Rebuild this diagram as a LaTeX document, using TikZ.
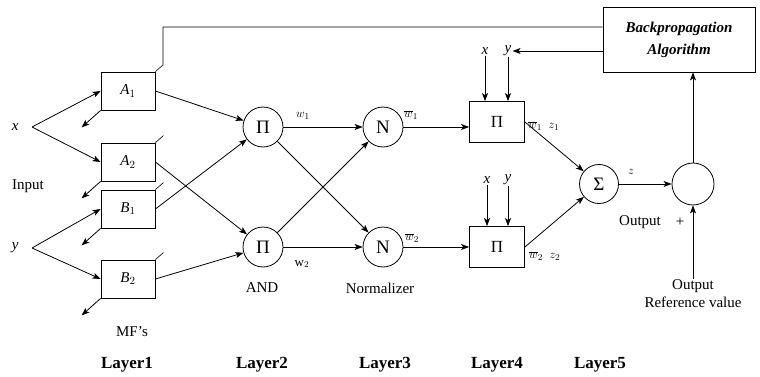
\documentclass[tikz,border=0pt]{standalone}
\usepackage{fontspec}
\setmainfont{Liberation Serif}
\usepackage{tikz}
\usetikzlibrary{arrows.meta,calc,positioning}
\begin{document}
\begin{tikzpicture}[x=1pt,y=-1pt,font=\fontsize{15}{18}\selectfont]

\tikzset{mfbox/.style = {shape=rectangle,draw,line width=0.8pt,minimum width=54pt,minimum height=38pt}}
\tikzset{opnode/.style = {shape=circle,draw,line width=0.8pt,minimum size=40pt,inner sep=0pt,font=\fontsize{19}{22}\selectfont}}
\tikzset{edge/.style = {->,> = {Stealth[length=8pt,width=6pt,inset=2pt]},line width=0.8pt}}
\tikzset{lbl/.style = {inner sep=1pt}}
\tikzset{pin/.style = {inner sep=0pt,minimum size=0pt}}
\tikzset{small/.style = {inner sep=1pt,font=\fontsize{13}{15}\selectfont}}
\tikzset{layer/.style = {font=\fontsize{17}{20}\selectfont\bfseries}}

\useasboundingbox (0,0) rectangle (760,377);

% inputs
\node[pin,label={[lbl,label distance=12pt]left:\textit{x}}] (x) at (32,127) {};
\node[pin,label={[lbl,label distance=12pt]left:\textit{y}}] (y) at (32,248) {};
\node (input) at (28,186) {Input};

% layer 1
\node[mfbox] (A1) at (128,91) {\textit{A}$_1$};
\node[mfbox] (A2) at (128,162) {\textit{A}$_2$};
\node[mfbox] (B1) at (128,209) {\textit{B}$_1$};
\node[mfbox] (B2) at (128,279) {\textit{B}$_2$};
\node (mf) at (132,332) {MF’s};

% layer 2
\node[opnode] (P1) at (263,127) {Π};
\node[opnode] (P2) at (263,247) {Π};
\node (and) at (262,288) {AND};

% layer 3
\node[opnode] (N1) at (383,127) {N};
\node[opnode] (N2) at (383,247) {N};
\node (norm) at (380,288) {Normalizer};

% layer 4
\node[mfbox,minimum width=55pt,minimum height=41pt,font=\fontsize{17}{20}\selectfont] (Q1) at (497,122) {Π};
\node[mfbox,minimum width=55pt,minimum height=41pt,font=\fontsize{17}{20}\selectfont] (Q2) at (497,247) {Π};
\node[lbl] (x1) at (485,51) {\textit{x}};
\node[lbl] (y1) at (508,51) {\textit{y}};
\node[lbl] (x2) at (487,180) {\textit{x}};
\node[lbl] (y2) at (508,180) {\textit{y}};

% layer 5
\node[opnode,minimum size=39pt] (S) at (599,184) {Σ};
\node[opnode,minimum size=42pt] (O) at (693,184) {};
\node[draw,line width=0.8pt,minimum width=152pt,minimum height=65pt,align=center,
      font=\fontsize{15}{22}\selectfont\bfseries\itshape] (bp) at (679,39.5)
      {Backpropagation\\Algorithm};
\node[align=center,inner sep=1pt] (ref) at (693,294) {Output\\Reference value};
\node (out) at (640,222) {Output};
\node (plus) at (680,222) {+};

% labels on links
\node[small] (w1) at (303,116) {$w_1$};
\node[small] (w2) at (302,264) {w$_2$};
\node[small] (nw1) at (411,115) {$\overline{w}_1$};
\node[small] (nw2) at (412,238) {$\overline{w}_2$};
\node[small,anchor=west] (f1) at (527,126) {$\overline{w}_1\ \ z_1$};
\node[small,anchor=west] (f2) at (528,256) {$\overline{w}_2\ \ z_2$};
\node[small] (z) at (631,172) {$z$};

% layer names
\node[layer] (L1) at (127,365) {Layer1};
\node[layer] (L2) at (262,365) {Layer2};
\node[layer] (L3) at (385,365) {Layer3};
\node[layer] (L4) at (497,365) {Layer4};
\node[layer] (L5) at (600,365) {Layer5};

% feedback coordinates
\coordinate (fk) at (163,65);
\coordinate (fb) at (163,27);

%edges
\draw[edge] (x) to (A1.west);
\draw[edge] (x) to (A2.west);
\draw[edge] (y) to (B1.west);
\draw[edge] (y) to (B2.west);
\foreach \m in {A1,A2,B1,B2} {
  \coordinate (\m t) at ($(\m.south west)+(-19,17)$);
  \draw[edge] (\m.south west) to (\m t);
}
\foreach \m in {A2,B1,B2}
  \draw[line width=0.6pt] (\m.north east) -- ++(8,-7);
\draw[line width=0.6pt] (A1.north east) -- (fk) -- (fb) -- (fb -| bp.west);

\draw[edge] (A1.east) to (P1);
\draw[edge] (B1.east) to (P1);
\draw[edge] (A2.east) to (P2);
\draw[edge] (B2.east) to (P2);

\draw[edge] (P1) to (N1);
\draw[edge] (P1) to (N2);
\draw[edge] (P2) to (N1);
\draw[edge] (P2) to (N2);

\draw[edge] (N1) to (N1 -| Q1.west);
\draw[edge] (N2) to (Q2);
\draw[edge] (x1.south) to (x1.south |- Q1.north);
\draw[edge] (y1.south) to (y1.south |- Q1.north);
\draw[edge] (x2.south) to (x2.south |- Q2.north);
\draw[edge] (y2.south) to (y2.south |- Q2.north);

\draw[edge] (Q1.east) to (S);
\draw[edge] (Q2.east) to (S);
\draw[edge] (S) to (O);
\draw[edge] (O.north) to (O.north |- bp.south);
\draw[edge] (ref.north) to (O.south);
\draw[edge] (bp.west |- y1) to (y1.east);
\end{tikzpicture}
\end{document}
